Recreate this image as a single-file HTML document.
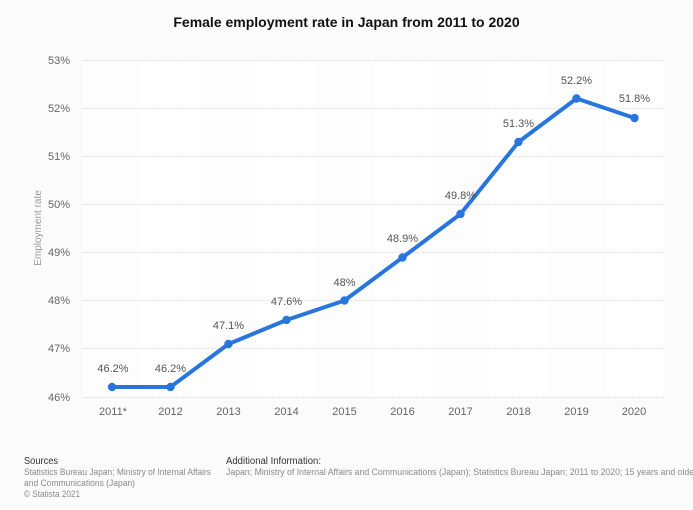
<!DOCTYPE html>
<html>
<head>
<meta charset="utf-8">
<style>
html,body{margin:0;padding:0;}
body{width:693px;height:510px;background:#fbfbfb;overflow:hidden;font-family:"Liberation Sans",Arial,sans-serif;}
svg{display:block;}
</style>
</head>
<body>
<svg width="693" height="510" viewBox="0 0 693 510" xmlns="http://www.w3.org/2000/svg" font-family="Liberation Sans, Arial, sans-serif">
  <rect x="0" y="0" width="693" height="510" fill="#fbfbfb"/>
  <!-- plot bands -->
  <rect x="83" y="60" width="582" height="337" fill="#fdfdfd"/>
  <rect x="141" y="60" width="58" height="337" fill="#ffffff"/>
  <rect x="258" y="60" width="58" height="337" fill="#ffffff"/>
  <rect x="374" y="60" width="58" height="337" fill="#ffffff"/>
  <rect x="490" y="60" width="58" height="337" fill="#ffffff"/>
  <rect x="607" y="60" width="58" height="337" fill="#ffffff"/>
  <!-- title -->
  <text x="346.5" y="27" text-anchor="middle" font-size="14" font-weight="bold" fill="#111">Female employment rate in Japan from 2011 to 2020</text>
  <!-- gridlines -->
  <g stroke="#e2e2e2" stroke-width="1" stroke-dasharray="2,1">
    <line x1="83" y1="60.5" x2="665" y2="60.5"/>
    <line x1="83" y1="108.5" x2="665" y2="108.5"/>
    <line x1="83" y1="156.5" x2="665" y2="156.5"/>
    <line x1="83" y1="204.5" x2="665" y2="204.5"/>
    <line x1="83" y1="252.5" x2="665" y2="252.5"/>
    <line x1="83" y1="300.5" x2="665" y2="300.5"/>
    <line x1="83" y1="348.5" x2="665" y2="348.5"/>
    <line x1="83" y1="397.5" x2="665" y2="397.5"/>
  </g>
  <!-- y labels -->
  <g font-size="11" fill="#666" text-anchor="end">
    <text x="70" y="64">53%</text>
    <text x="70" y="112">52%</text>
    <text x="70" y="160">51%</text>
    <text x="70" y="208">50%</text>
    <text x="70" y="256">49%</text>
    <text x="70" y="304">48%</text>
    <text x="70" y="352">47%</text>
    <text x="70" y="401">46%</text>
  </g>
  <text transform="translate(41,228) rotate(-90)" text-anchor="middle" font-size="10" fill="#999">Employment rate</text>
  <!-- x labels -->
  <g font-size="11" fill="#666" text-anchor="middle">
    <text x="113" y="415">2011*</text>
    <text x="170.5" y="415">2012</text>
    <text x="228.5" y="415">2013</text>
    <text x="286.5" y="415">2014</text>
    <text x="344.5" y="415">2015</text>
    <text x="402.5" y="415">2016</text>
    <text x="460.5" y="415">2017</text>
    <text x="518.5" y="415">2018</text>
    <text x="576.5" y="415">2019</text>
    <text x="634" y="415">2020</text>
  </g>
  <!-- series -->
  <polyline fill="none" stroke="#2876dd" stroke-width="4" stroke-linejoin="round" stroke-linecap="round"
    points="112,387 170.5,387 228.5,344 286.5,320 344.5,300.5 402.5,257.5 460.5,214 518.5,142 576.5,98.5 634.5,118"/>
  <g fill="#2876dd">
    <circle cx="112" cy="387" r="4.2"/>
    <circle cx="170.5" cy="387" r="4.2"/>
    <circle cx="228.5" cy="344" r="4.2"/>
    <circle cx="286.5" cy="320" r="4.2"/>
    <circle cx="344.5" cy="300.5" r="4.2"/>
    <circle cx="402.5" cy="257.5" r="4.2"/>
    <circle cx="460.5" cy="214" r="4.2"/>
    <circle cx="518.5" cy="142" r="4.2"/>
    <circle cx="576.5" cy="98.5" r="4.2"/>
    <circle cx="634.5" cy="118" r="4.2"/>
  </g>
  <!-- data labels -->
  <g font-size="11" fill="#555" text-anchor="middle">
    <text x="113" y="372">46.2%</text>
    <text x="170.5" y="372">46.2%</text>
    <text x="228.5" y="329">47.1%</text>
    <text x="286.5" y="305">47.6%</text>
    <text x="344.5" y="286">48%</text>
    <text x="402.5" y="242">48.9%</text>
    <text x="460.5" y="199">49.8%</text>
    <text x="518.5" y="127">51.3%</text>
    <text x="576.5" y="84">52.2%</text>
    <text x="634.5" y="102">51.8%</text>
  </g>
  <!-- footer -->
  <text x="24" y="464" font-size="10" fill="#333" textLength="34" lengthAdjust="spacingAndGlyphs">Sources</text>
  <text x="24" y="475" font-size="9" fill="#8a8a8a" textLength="187" lengthAdjust="spacingAndGlyphs">Statistics Bureau Japan; Ministry of Internal Affairs</text>
  <text x="24" y="486" font-size="9" fill="#8a8a8a" textLength="111" lengthAdjust="spacingAndGlyphs">and Communications (Japan)</text>
  <text x="24" y="497" font-size="9" fill="#8a8a8a" textLength="56" lengthAdjust="spacingAndGlyphs">© Statista 2021</text>
  <text x="226" y="464" font-size="10" fill="#333" textLength="95" lengthAdjust="spacingAndGlyphs">Additional Information:</text>
  <text x="226" y="475" font-size="9" fill="#8a8a8a" textLength="471" lengthAdjust="spacingAndGlyphs">Japan; Ministry of Internal Affairs and Communications (Japan); Statistics Bureau Japan; 2011 to 2020; 15 years and older</text>
</svg>
</body>
</html>
